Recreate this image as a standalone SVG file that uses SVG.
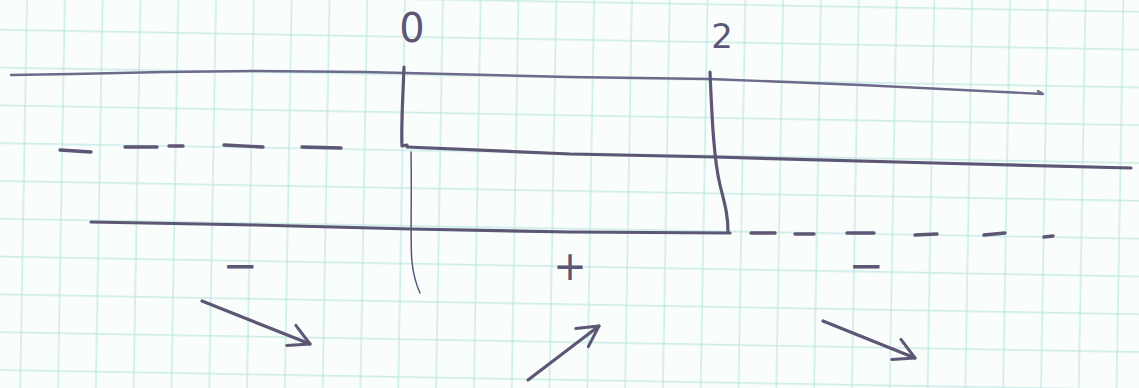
<svg xmlns="http://www.w3.org/2000/svg" width="1139" height="388" viewBox="0 0 1139 388">
  <style>
    .ink { fill: none; stroke: #5d5675; stroke-linecap: round; stroke-linejoin: round; }
    .light { stroke: #6e6a8c; }
    .thick { stroke-width: 3.2; }
    .mid { stroke-width: 2.4; }
    .thin { stroke-width: 1.5; }
    .dash { stroke-width: 3.4; }
    .lbl { fill: #5d5675; font-family: "DejaVu Sans", sans-serif; text-anchor: middle; }
  </style>
  <defs>
    <pattern id="grid" width="37.8" height="37.8" patternUnits="userSpaceOnUse" patternTransform="rotate(1)">
      <path d="M27,0V37.8M0,29.8H37.8" fill="none" stroke="#bfe7e2" stroke-width="1.2"/>
    </pattern>
    <marker id="head" markerUnits="userSpaceOnUse" markerWidth="40" markerHeight="40" refX="0" refY="0" viewBox="-30 -20 40 40" orient="auto" overflow="visible">
      <path d="M-20,-12L0,0L-21,10" fill="none" stroke="#5d5675" stroke-width="3" stroke-linecap="round" stroke-linejoin="round"/>
    </marker>
  </defs>

  <g id="paper">
    <rect width="1139" height="388" fill="#f9fdfc"/>
    <rect x="-20" y="-20" width="1180" height="430" fill="url(#grid)"/>
  </g>

  <g id="rows">
    <path class="ink mid light" d="M11,75 L73,74 L164,72 L255,71 L364,72 L570,77 L710,79 L861,85 L1043,94 L1038,91"/>
    <path class="ink dash" d="M60,150L91,152 M125,147L157,147 M169,146L183,146 M224,145L263,147 M302,147L341,148"/>
    <path class="ink thick" d="M407,147 L570,154 L715,157 L934,163 L1131,168"/>
    <path class="ink thick" d="M91,222 L255,225 L411,229 L570,232 L730,233"/>
    <path class="ink dash" d="M751,233L775,233 M795,234L814,234 M847,233L874,233 M915,235L937,234 M984,235L1005,233 M1044,237L1053,236"/>
  </g>

  <g id="dividers">
    <path class="ink thick" d="M404,67 C403,95 401,125 402,146 L407,145"/>
    <path class="ink thin" d="M411,152 C412,200 410,245 412,262 Q414,280 420,293"/>
    <path class="ink thick" d="M710,72 C712,120 714,160 720,185 C725,205 728,215 728,232"/>
  </g>

  <g id="label-0"><text class="lbl" x="412" y="42" font-size="40">0</text></g>
  <g id="label-2"><text class="lbl" x="722" y="48" font-size="34">2</text></g>

  <g id="sign-1"><text class="lbl" x="240" y="280" font-size="42">−</text></g>
  <g id="sign-2"><text class="lbl" x="570" y="280" font-size="40">+</text></g>
  <g id="sign-3"><text class="lbl" x="866" y="280" font-size="42">−</text></g>

  <g id="arrows">
    <path class="ink thick" d="M202,301 L310,344" marker-end="url(#head)"/>
    <path class="ink thick" d="M528,380 L599,326" marker-end="url(#head)"/>
    <path class="ink thick" d="M823,321 L915,358" marker-end="url(#head)"/>
  </g>
</svg>
